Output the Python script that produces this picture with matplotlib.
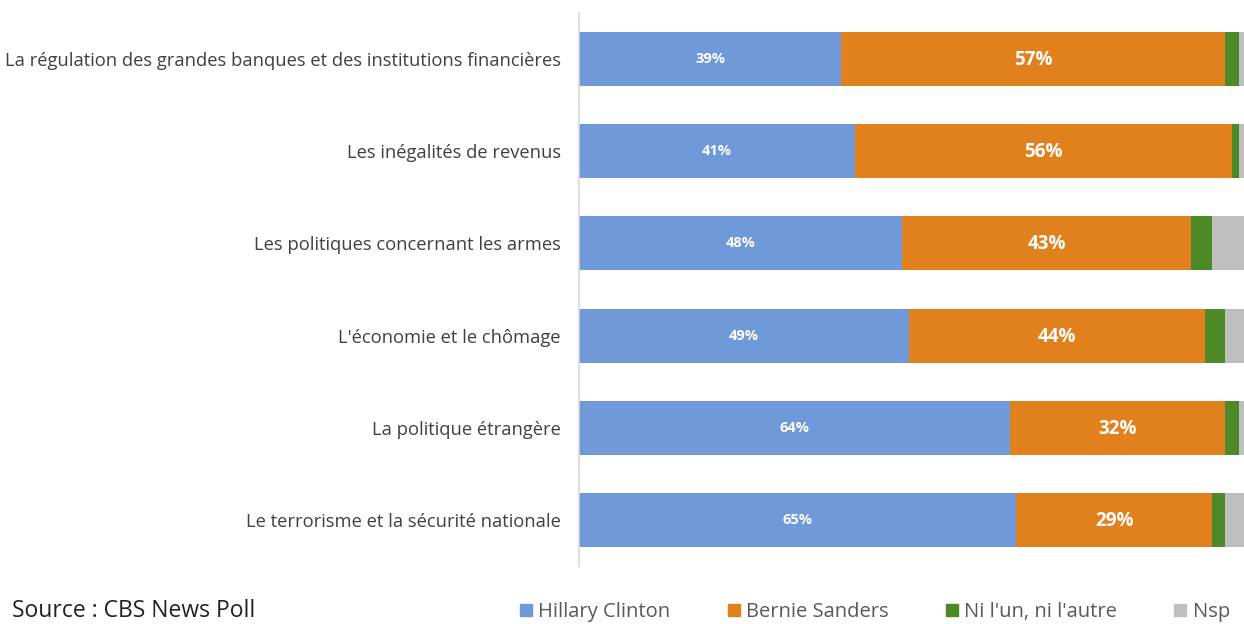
import matplotlib
matplotlib.use("Agg")
import matplotlib.pyplot as plt
from matplotlib.patches import Patch

# sujets (de haut en bas)
topics = [
    "La régulation des grandes banques et des institutions financières",
    "Les inégalités de revenus",
    "Les politiques concernant les armes",
    "L'économie et le chômage",
    "La politique étrangère",
    "Le terrorisme et la sécurité nationale",
]
clinton = [39, 41, 48, 49, 64, 65]
sanders = [57, 56, 43, 44, 32, 29]
neither = [2, 1, 3, 3, 2, 2]
nsp = [2, 2, 6, 4, 2, 4]

series_names = ["Hillary Clinton", "Bernie Sanders", "Ni l'un, ni l'autre", "Nsp"]
colors = ["#7099d9", "#e1811e", "#4d8a27", "#bfbfbf"]

plt.rcParams['font.family'] = ['Open Sans', 'DejaVu Sans']

fig = plt.figure(figsize=(12.44, 6.24), dpi=100)
ax = fig.add_axes([579 / 1244, 1 - 566 / 624, 673 / 1244, 553 / 624])

y = list(range(len(topics)))
left = [0] * len(topics)
for vals, c, name in zip([clinton, sanders, neither, nsp], colors, series_names):
    ax.barh(y, vals, left=left, height=0.585, color=c, label=name)
    left = [l + v for l, v in zip(left, vals)]

# etiquettes de valeurs
for i in y:
    ax.text(clinton[i] / 2, i, "%d%%" % clinton[i], ha="center", va="center",
            color="white", fontsize=10.5, fontweight="bold")
    ax.text(clinton[i] + sanders[i] / 2, i + 0.01, "%d%%" % sanders[i], ha="center",
            va="center", color="white", fontsize=13.5, fontweight="bold")

ax.set_xlim(0, 100)
ax.set_ylim(len(topics) - 0.5, -0.5)
ax.set_yticks(y)
ax.set_yticklabels(topics, fontsize=13.2, color="#404040")
ax.tick_params(axis="y", length=0, pad=13)
ax.set_xticks([])
for s in ["top", "right", "bottom"]:
    ax.spines[s].set_visible(False)
ax.spines["left"].set_color("#d9d9d9")
ax.spines["left"].set_linewidth(1.2)

handles = [Patch(color=c, label=n) for c, n in zip(colors, series_names)]
fig.legend(handles=handles, loc="center", bbox_to_anchor=(875 / 1244, 1 - 612 / 624),
           ncol=4, frameon=False, fontsize=14.5, labelcolor="#595959",
           handlelength=0.6, handleheight=0.6, handletextpad=0.3,
           columnspacing=2.85, borderpad=0.1)

fig.text(12 / 1244, 7 / 624, "Source : CBS News Poll", fontsize=16.5,
         color="#222222", va="baseline", ha="left")

fig.savefig("out.png", dpi=100)
